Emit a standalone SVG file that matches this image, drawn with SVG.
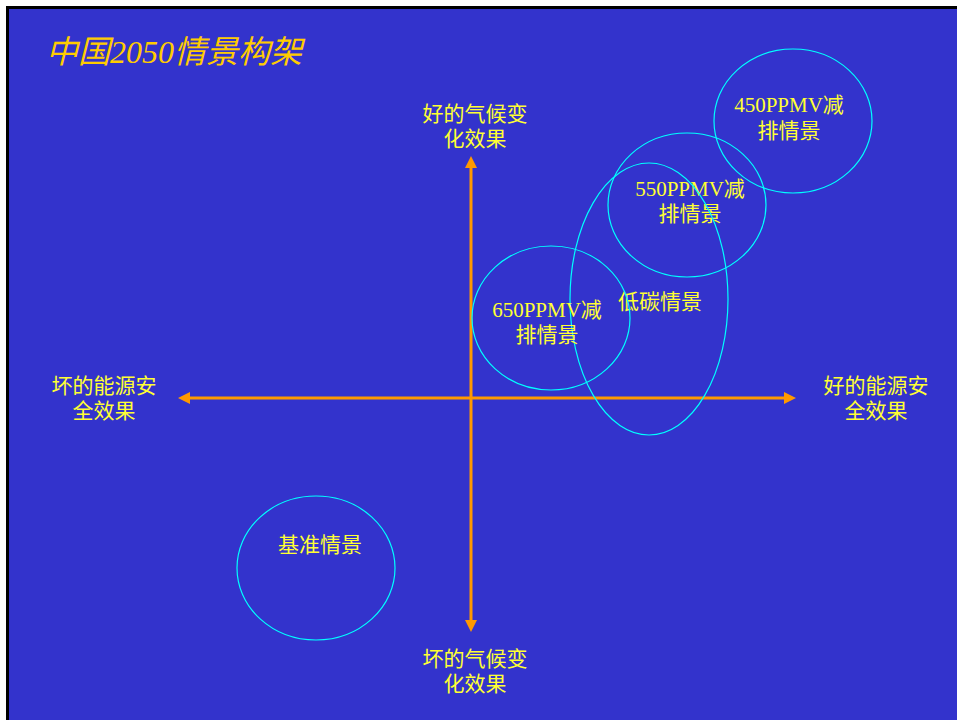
<svg xmlns="http://www.w3.org/2000/svg" width="957" height="720" viewBox="0 0 957 720">
<defs>
<style>
.lbl{font-family:"Liberation Serif","Noto Sans CJK SC",serif;font-size:21px;fill:#FFFF33;text-anchor:middle}
.ell{fill:none;stroke:#00FFFF;stroke-width:1.2}
.ax{stroke:#FF9900;stroke-width:3;fill:none}
</style>
<marker id="ah" viewBox="0 0 10 10" refX="5" refY="5" markerWidth="4" markerHeight="4" orient="auto-start-reverse" markerUnits="strokeWidth">
<path d="M0,0 L10,5 L0,10 Z" fill="#FF9900"/>
</marker>
</defs>
<rect x="0" y="0" width="957" height="720" fill="#FFFFFF"/>
<rect x="7.5" y="7.5" width="960" height="720" fill="#3333CC" stroke="#000000" stroke-width="3"/>
<text x="46" y="63" font-family="Liberation Serif,'Noto Sans CJK SC',serif" font-size="32" font-style="italic" fill="#FFCC00">中国2050情景构架</text>
<g id="connectors">
<line class="ax" x1="184" y1="398" x2="790" y2="398" marker-start="url(#ah)" marker-end="url(#ah)"/>
<line class="ax" x1="471" y1="162" x2="471" y2="626" marker-start="url(#ah)" marker-end="url(#ah)"/>
</g>
<g id="axis-top"><text class="lbl" x="475" y="121">好的气候变</text><text class="lbl" x="475" y="146">化效果</text></g>
<g id="axis-bottom"><text class="lbl" x="475" y="666">坏的气候变</text><text class="lbl" x="475" y="691">化效果</text></g>
<g id="axis-left"><text class="lbl" x="104" y="393">坏的能源安</text><text class="lbl" x="104" y="418">全效果</text></g>
<g id="axis-right"><text class="lbl" x="876" y="393">好的能源安</text><text class="lbl" x="876" y="418">全效果</text></g>
<g id="s450"><ellipse class="ell" cx="793" cy="121" rx="79" ry="72"/><text class="lbl" x="789" y="112">450PPMV减</text><text class="lbl" x="789" y="138">排情景</text></g>
<g id="s550"><ellipse class="ell" cx="687" cy="205" rx="79" ry="72"/><text class="lbl" x="690" y="196">550PPMV减</text><text class="lbl" x="690" y="221">排情景</text></g>
<g id="lowcarbon"><ellipse class="ell" cx="649" cy="299" rx="79" ry="136"/><text class="lbl" x="660" y="309">低碳情景</text></g>
<g id="s650"><ellipse class="ell" cx="551" cy="318" rx="79" ry="72"/><text class="lbl" x="547" y="317">650PPMV减</text><text class="lbl" x="547" y="342">排情景</text></g>
<g id="baseline"><ellipse class="ell" cx="316" cy="568" rx="79" ry="72"/><text class="lbl" x="320" y="552">基准情景</text></g>
</svg>
